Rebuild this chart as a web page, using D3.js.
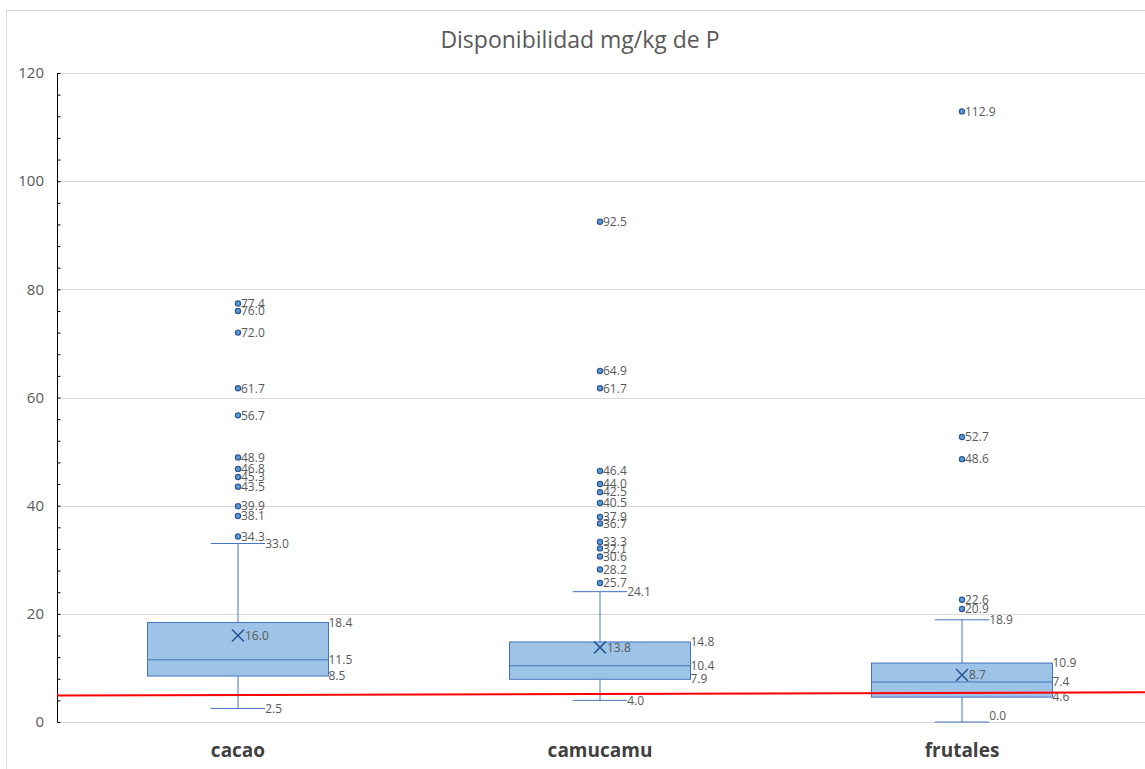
<!DOCTYPE html>
<html><head><meta charset="utf-8">
<script src="https://cdn.jsdelivr.net/npm/d3@7"></script>
<style>body{margin:0;background:#fff;} svg{display:block;font-family:"Open Sans","Noto Sans",sans-serif;}</style>
</head><body><svg id="c" width="1145" height="769"></svg>
<script>
const categories = ["cacao", "camucamu", "frutales"];
const q1 = [8.5, 7.9, 4.6];
const median = [11.5, 10.4, 7.4];
const q3 = [18.4, 14.8, 10.9];
const whiskerLow = [2.5, 4.0, 0.0];
const whiskerHigh = [33.0, 24.1, 18.9];
const means = [16.0, 13.8, 8.7];
const outliers = [
  [77.4, 76.0, 72.0, 61.7, 56.7, 48.9, 46.8, 45.3, 43.5, 39.9, 38.1, 34.3],
  [92.5, 64.9, 61.7, 46.4, 44.0, 42.5, 40.5, 37.9, 36.7, 33.3, 32.1, 30.6, 28.2, 25.7],
  [112.9, 52.7, 48.6, 22.6, 20.9]
];
const yTicks = [0, 20, 40, 60, 80, 100, 120];
const refLine = [4.9, 5.5]; // red line value at left and right ends
const title = "Disponibilidad mg/kg de P";

const svg = d3.select("#c");
const W = 1145, H = 769;
const y = d3.scaleLinear().domain([0, 120]).range([722, 73]);
const x = d3.scaleBand().domain(categories).range([57, 1143]).paddingInner(0).paddingOuter(0);
const bw = x.bandwidth();
const boxW = bw * 0.5, capW = bw * 0.15;
const gray = "#595959", blue = "#4472c4";

// chart frame
svg.append("rect").attr("x", 6.5).attr("y", 10.5).attr("width", W).attr("height", H)
  .attr("fill", "none").attr("stroke", "#d9d9d9");

// title
svg.append("text").attr("x", 580).attr("y", 48).attr("text-anchor", "middle")
  .attr("font-size", 23).attr("fill", gray).text(title);

// gridlines
svg.append("g").selectAll("line").data(yTicks).join("line")
  .attr("x1", 57).attr("x2", 1145).attr("y1", d => Math.round(y(d)) + 0.5).attr("y2", d => Math.round(y(d)) + 0.5)
  .attr("stroke", "#d9d9d9").attr("stroke-width", 1);

// y axis
const yAxis = d3.axisRight(y).tickValues(d3.range(0, 121, 4)).tickSize(3).tickFormat("");
const ga = svg.append("g").attr("transform", "translate(57.5,0)").call(yAxis);
ga.select(".domain").attr("stroke", "#000").attr("d", `M0,${y(120)}V${y(0)}`);
ga.selectAll(".tick line").attr("stroke", "#000");
svg.append("g").selectAll("text").data(yTicks).join("text")
  .attr("x", 44).attr("y", d => y(d)).attr("dy", "0.35em").attr("text-anchor", "end")
  .attr("font-size", 15).attr("fill", gray).text(d => d);

// x labels
svg.append("g").selectAll("text").data(categories).join("text")
  .attr("x", d => x(d) + bw / 2).attr("y", 757).attr("text-anchor", "middle")
  .attr("font-size", 19).attr("font-weight", "bold").attr("fill", "#404040").text(d => d);

const fmt = d3.format(".1f");
const lbl = (g, xx, v) => g.append("text").attr("x", xx).attr("y", Math.min(y(v), y(0) - 6)).attr("dy", "0.35em")
  .attr("font-size", 12).attr("fill", gray).text(fmt(v));

categories.forEach((c, i) => {
  const cx = x(c) + bw / 2;
  const g = svg.append("g");
  // whiskers
  g.append("line").attr("x1", cx).attr("x2", cx).attr("y1", y(q3[i])).attr("y2", y(whiskerHigh[i])).attr("stroke", blue);
  g.append("line").attr("x1", cx).attr("x2", cx).attr("y1", y(q1[i])).attr("y2", y(whiskerLow[i])).attr("stroke", blue);
  g.append("line").attr("x1", cx - capW / 2).attr("x2", cx + capW / 2).attr("y1", y(whiskerHigh[i])).attr("y2", y(whiskerHigh[i])).attr("stroke", blue);
  g.append("line").attr("x1", cx - capW / 2).attr("x2", cx + capW / 2).attr("y1", y(whiskerLow[i])).attr("y2", y(whiskerLow[i])).attr("stroke", blue);
  // box
  g.append("rect").attr("x", cx - boxW / 2).attr("y", y(q3[i])).attr("width", boxW).attr("height", y(q1[i]) - y(q3[i]))
    .attr("fill", "#9dc3e6").attr("stroke", blue).attr("stroke-width", 1);
  g.append("line").attr("x1", cx - boxW / 2).attr("x2", cx + boxW / 2).attr("y1", y(median[i])).attr("y2", y(median[i])).attr("stroke", blue);
  // mean X
  const my = y(means[i]), s = 6;
  g.append("path").attr("d", `M${cx - s},${my - s}L${cx + s},${my + s}M${cx - s},${my + s}L${cx + s},${my - s}`)
    .attr("stroke", "#2f5597").attr("stroke-width", 1.6).attr("fill", "none");
  // outliers
  outliers[i].forEach(v => {
    g.append("circle").attr("cx", cx).attr("cy", y(v)).attr("r", 2.6)
      .attr("fill", "#5b9bd5").attr("stroke", "#2f5597").attr("stroke-width", 1.2);
    lbl(g, cx + 3, v);
  });
  // labels
  lbl(g, cx + boxW / 2, q3[i]);
  lbl(g, cx + boxW / 2, median[i]);
  lbl(g, cx + boxW / 2, q1[i]);
  lbl(g, cx + capW / 2, whiskerHigh[i]);
  lbl(g, cx + capW / 2, whiskerLow[i]);
  lbl(g, cx + 7, means[i]);
});

// red reference line
svg.append("line").attr("x1", 57).attr("x2", 1145).attr("y1", y(refLine[0])).attr("y2", y(refLine[1]))
  .attr("stroke", "#ff0000").attr("stroke-width", 2);
</script></body></html>
